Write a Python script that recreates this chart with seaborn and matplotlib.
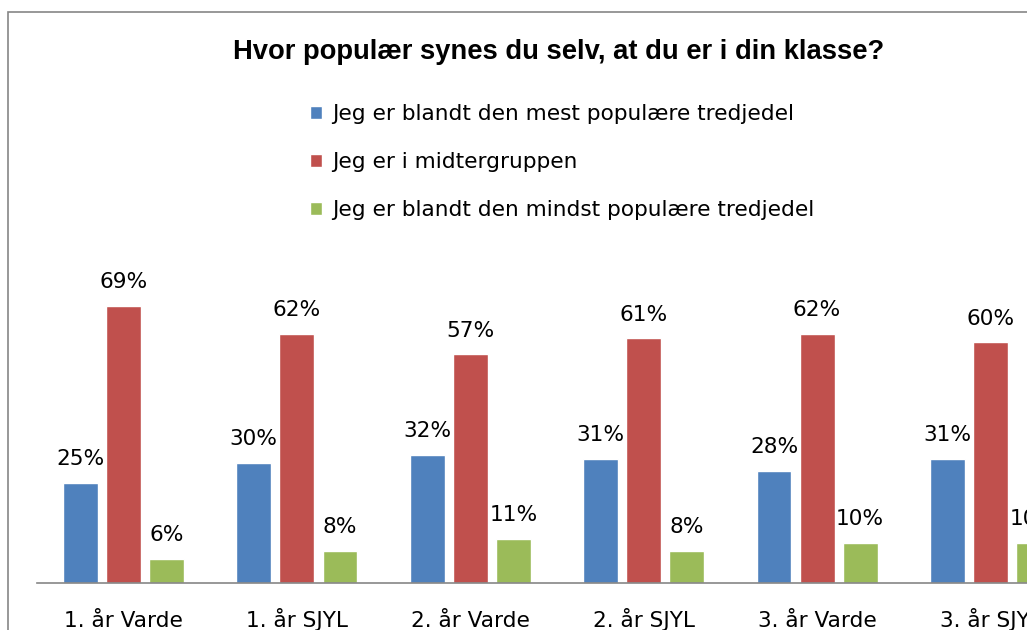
import numpy as np
import pandas as pd
import matplotlib
matplotlib.use("Agg")
import matplotlib.pyplot as plt
import seaborn as sns
from matplotlib.patches import Rectangle
from matplotlib.transforms import IdentityTransform

# Data
klasser = ["1. år Varde", "1. år SJYL", "2. år Varde", "2. år SJYL", "3. år Varde", "3. år SJYL"]
serier = [
    "Jeg er blandt den mest populære tredjedel",
    "Jeg er i midtergruppen",
    "Jeg er blandt den mindst populære tredjedel",
]
mest_populaer = [25, 30, 32, 31, 28, 31]
midtergruppe = [69, 62, 57, 61, 62, 60]
mindst_populaer = [6, 8, 11, 8, 10, 10]
farver = ["#4F81BD", "#C0504D", "#9BBB59"]

df = pd.DataFrame({
    "klasse": klasser * 3,
    "svar": [serier[0]] * 6 + [serier[1]] * 6 + [serier[2]] * 6,
    "andel": mest_populaer + midtergruppe + mindst_populaer,
})

sns.set_style("white")
plt.rcParams["font.family"] = ["DejaVu Sans"]
plt.rcParams["text.color"] = "black"
plt.rcParams["xtick.color"] = "black"
FS = 15.6

W, H = 1027, 630
fig = plt.figure(figsize=(W / 100, H / 100), dpi=100)

# akse i pixel-koordinater (hoejre side er beskaaret i originalen)
x0, ybase, gruppe = 36.8, 583, 173.4
ymax = 80
px_per = 4.01
ax = fig.add_axes([x0 / W, (H - ybase) / H, 6 * gruppe / W, ymax * px_per / H])

sns.barplot(data=df, x="klasse", y="andel", hue="svar", palette=farver,
            width=0.745, gap=0.19, ax=ax, saturation=1, legend=True)
ax.set_xlim(-0.5, 5.5)
ax.set_ylim(0, ymax)

for c in ax.containers:
    ax.bar_label(c, fmt="{:.0f}%", padding=10, fontsize=FS, color="black")

ax.set_xlabel("")
ax.set_ylabel("")
ax.set_yticks([])
ax.tick_params(axis="x", length=0, pad=32, labelsize=FS, labelcolor="black")
for lbl in ax.get_xticklabels():
    lbl.set_verticalalignment("baseline")
for s in ["top", "right", "left"]:
    ax.spines[s].set_visible(False)
ax.spines["bottom"].set_color("#868686")
ax.spines["bottom"].set_linewidth(1.2)

handles, labels = ax.get_legend_handles_labels()
ax.get_legend().remove()
fig.legend(handles, labels, loc="upper left", bbox_to_anchor=(310 / W, 1 - 104 / H),
           frameon=False, fontsize=FS, labelspacing=1.3, handlelength=0.55,
           handleheight=0.55, handletextpad=0.45, borderpad=0, borderaxespad=0)

fig.text(559 / W, 1 - 52 / H, "Hvor populær synes du selv, at du er i din klasse?",
         ha="center", va="center", fontsize=19.7, fontweight="bold", color="black",
         family=["Liberation Sans", "DejaVu Sans"])

# ramme om diagrammet
fig.patches.append(Rectangle((8, -20), 1200, H - 12 + 20, transform=IdentityTransform(),
                             fill=False, edgecolor="#868686", linewidth=1.2))

fig.savefig("out.png", dpi=100)
